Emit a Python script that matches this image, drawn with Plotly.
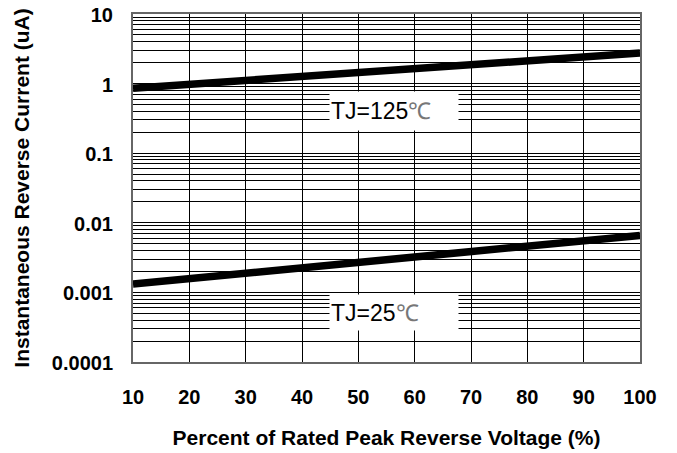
import plotly.graph_objects as go

x_pct = [10, 100]
i_125 = [0.86, 2.75]
i_25 = [0.00132, 0.0066]

x_ticks = [10, 20, 30, 40, 50, 60, 70, 80, 90, 100]
y_major = [0.0001, 0.001, 0.01, 0.1, 1, 10]
y_major_text = ["0.0001", "0.001", "0.01", "0.1", "1", "10"]

yvals, ytext = [], []
for d, lab in zip(y_major[:-1], y_major_text[:-1]):
    for k in range(1, 10):
        yvals.append(d * k)
        ytext.append(lab if k == 1 else "")
yvals.append(10)
ytext.append("10")

FONT = "Liberation Sans, Arial, sans-serif"

fig = go.Figure()
fig.add_trace(go.Scatter(x=x_pct, y=i_125, mode="lines",
                         line=dict(color="black", width=7.5), showlegend=False))
fig.add_trace(go.Scatter(x=x_pct, y=i_25, mode="lines",
                         line=dict(color="black", width=7.5), showlegend=False))

fig.add_annotation(x=56.3, y=-0.39, xref="x", yref="y",
                   text="TJ=125<span style='color:#777'>℃</span>",
                   showarrow=False, bgcolor="white", width=126, height=36,
                   borderpad=1, align="left",
                   font=dict(family=FONT, size=23, color="black"))
fig.add_annotation(x=56.3, y=-3.29, xref="x", yref="y",
                   text="TJ=25<span style='color:#777'>℃</span>",
                   showarrow=False, bgcolor="white", width=126, height=33,
                   borderpad=1, align="left",
                   font=dict(family=FONT, size=23, color="black"))

fig.update_layout(
    width=677, height=453,
    margin=dict(l=125, r=45, t=6, b=99),
    paper_bgcolor="white", plot_bgcolor="white",
    font=dict(family=FONT, color="black"),
    xaxis=dict(range=[10, 100], tickvals=x_ticks, automargin=False,
               tickfont=dict(size=20, family=FONT, weight="bold"),
               ticklabeloverflow="allow",
               showgrid=True, gridcolor="black", gridwidth=1,
               zeroline=False,
               showline=True, linecolor="#666", linewidth=2, mirror=True,
               ticks="outside", ticklen=16, tickcolor="rgba(0,0,0,0)",
               title=dict(text="<b>Percent of Rated Peak Reverse Voltage (%)</b>",
                          font=dict(size=21, family=FONT), standoff=23)),
    yaxis=dict(type="log", range=[-4, 1], tickvals=yvals, ticktext=ytext,
               automargin=False, ticklabeloverflow="allow", ticklabelshift=1,
               tickfont=dict(size=20, family=FONT, weight="bold"),
               showgrid=True, gridcolor="black", gridwidth=1,
               zeroline=False,
               showline=True, linecolor="#666", linewidth=2, mirror=True,
               ticks="outside", ticklen=14, tickcolor="rgba(0,0,0,0)",
               title=dict(text="<b>Instantaneous Reverse Current (uA)</b>",
                          font=dict(size=21, family=FONT), standoff=16)),
)

fig.write_html("out.html")
